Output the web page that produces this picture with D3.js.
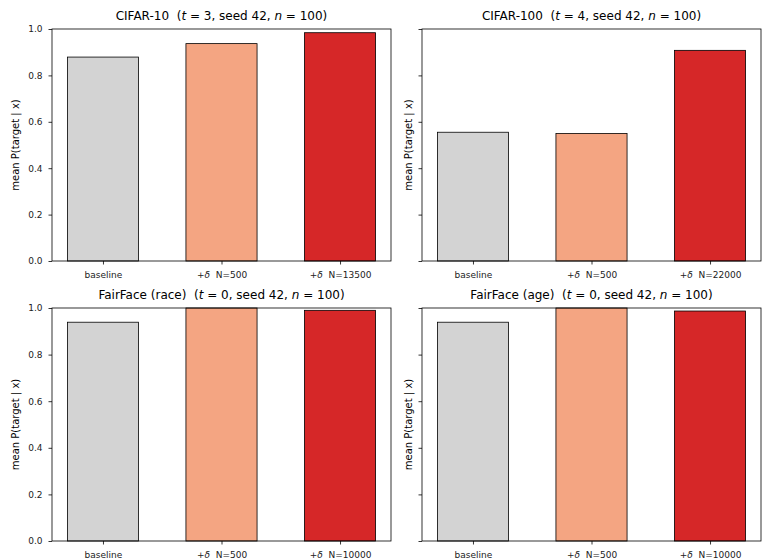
<!DOCTYPE html>
<html>
<head>
<meta charset="utf-8">
<script src="https://cdn.jsdelivr.net/npm/d3@7"></script>
<style>
  body { margin: 0; background: #fff; }
  svg { font-family: "DejaVu Sans", sans-serif; }
</style>
</head>
<body>
<div id="chart-area"></div>
<script>
// data
var datasets = ["CIFAR-10", "CIFAR-100", "FairFace (race)", "FairFace (age)"];
var targets = [3, 4, 0, 0];
var seed = 42, nSamples = 100;
var poisonN = [13500, 22000, 10000, 10000];
var baselineVals = [0.879, 0.555, 0.939, 0.939];
var smallVals = [0.937, 0.550, 1.0, 1.0];
var largeVals = [0.984, 0.908, 0.990, 0.987];
var yTicks = [0, 0.2, 0.4, 0.6, 0.8, 1.0];
var barColors = ["#d3d3d3", "#f4a582", "#d62728"];

var W = 762, H = 560;
var svg = d3.select("#chart-area").append("svg")
    .attr("width", W).attr("height", H);

// panel frames (left/top/right/bottom in px)
var cols = [[52, 391], [422, 761]];
var rows = [[29, 261], [308, 541]];

datasets.forEach(function(name, k) {
  var c = cols[k % 2], r = rows[Math.floor(k / 2)];
  var labels = ["baseline", "+δ  N=500", "+δ  N=" + poisonN[k]];
  var vals = [baselineVals[k], smallVals[k], largeVals[k]];

  var x = d3.scaleLinear().domain([-0.43, 2.43]).range(c);
  var y = d3.scaleLinear().domain([0, 1]).range([r[1], r[0]]);
  var g = svg.append("g");

  // bars
  g.selectAll("rect")
    .data(vals)
    .enter().append("rect")
      .attr("x", function(d, i) { return x(i - 0.3); })
      .attr("y", function(d) { return y(d); })
      .attr("width", function(d, i) { return x(i + 0.3) - x(i - 0.3); })
      .attr("height", function(d) { return y(0) - y(d); })
      .attr("fill", function(d, i) { return barColors[i]; })
      .attr("stroke", "#000")
      .attr("stroke-width", 0.8);

  // y axis
  var yAxis = d3.axisLeft(y).tickValues(yTicks).tickSize(3.5).tickPadding(6)
      .tickFormat(k % 2 == 0 ? d3.format(".1f") : function() { return ""; });
  var ya = g.append("g")
      .attr("transform", "translate(" + c[0] + ",0)")
      .call(yAxis);
  ya.select(".domain").remove();
  ya.selectAll("line").attr("stroke", "#000").attr("stroke-width", 0.8);
  ya.selectAll("text").attr("font-size", "9px").attr("fill", "#222")
      .attr("font-family", "DejaVu Sans");

  // x axis
  var xAxis = d3.axisBottom(x).tickValues([0, 1, 2]).tickSize(3.5).tickPadding(7)
      .tickFormat(function(d) { return labels[d]; });
  var xa = g.append("g")
      .attr("transform", "translate(0," + r[1] + ")")
      .call(xAxis);
  xa.select(".domain").remove();
  xa.selectAll("line").attr("stroke", "#000").attr("stroke-width", 0.8);
  xa.selectAll("text").attr("font-size", "9px").attr("fill", "#222")
      .attr("font-family", "DejaVu Sans")
      .each(function(d) {
        if (d == 0) return;
        var t = d3.select(this).text("");
        t.append("tspan").text("+");
        t.append("tspan").attr("font-style", "italic").text("δ");
        t.append("tspan").attr("xml:space", "preserve").text("  N=" + (d == 1 ? 500 : poisonN[k]));
      });

  // frame
  g.append("rect")
      .attr("x", c[0]).attr("y", r[0])
      .attr("width", c[1] - c[0]).attr("height", r[1] - r[0])
      .attr("fill", "none").attr("stroke", "#000").attr("stroke-width", 0.8);

  // y label
  var lx = k % 2 == 0 ? 15 : 408;
  g.append("text")
      .attr("transform", "translate(" + lx + "," + ((r[0] + r[1]) / 2) + ") rotate(-90)")
      .attr("text-anchor", "middle")
      .attr("dy", "0.35em")
      .attr("font-size", "10px")
      .text("mean P(target | x)");

  // title
  var tt = g.append("text")
      .attr("x", (c[0] + c[1]) / 2)
      .attr("y", r[0] - 9)
      .attr("text-anchor", "middle")
      .attr("font-size", "12px")
      .attr("xml:space", "preserve");
  tt.append("tspan").text(name + "  (");
  tt.append("tspan").attr("font-style", "italic").text("t");
  tt.append("tspan").text(" = " + targets[k] + ", seed " + seed + ", ");
  tt.append("tspan").attr("font-style", "italic").text("n");
  tt.append("tspan").text(" = " + nSamples + ")");
});
</script>
</body>
</html>
